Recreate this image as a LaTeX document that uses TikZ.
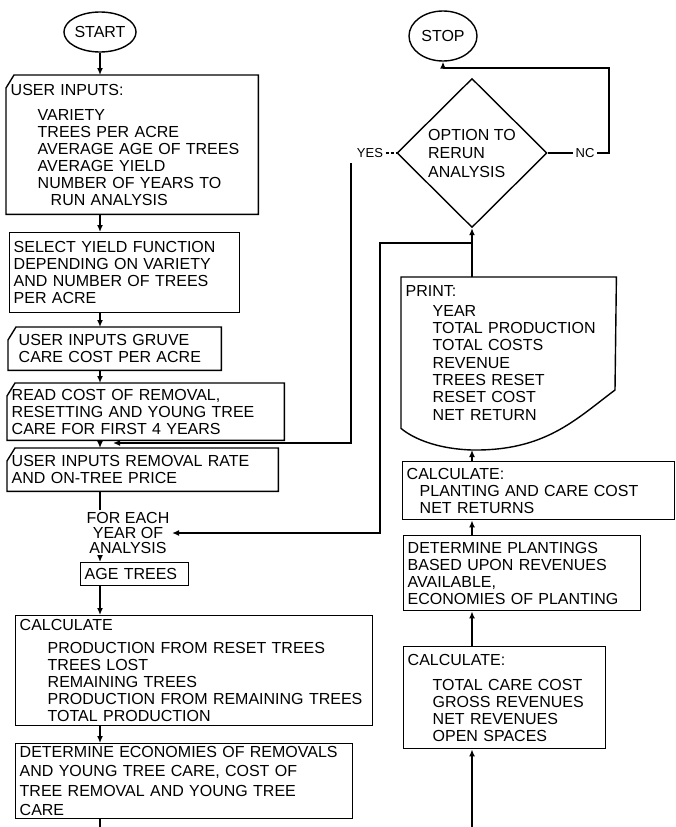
\documentclass[tikz,border=0pt]{standalone}
\usepackage{fontspec}
\setmainfont{Liberation Sans}
\usetikzlibrary{shapes.geometric,arrows.meta}

% input box with the upper left corner cut off
\newcommand{\card}[1]{\draw ([yshift=-13pt]#1.north west) -- ([xshift=8pt]#1.north west) -- (#1.north east) -- (#1.south east) -- (#1.south west) -- cycle;}

\begin{document}
\begin{tikzpicture}[x=1pt, y=-1pt, line width=1.4pt, >={Latex[length=7pt,width=6pt]},
    font=\fontsize{16}{17}\selectfont,
    box/.style={draw, rectangle, anchor=north west, align=left, inner xsep=4pt, inner ysep=0pt},
    card/.style={box, draw=none},
    term/.style={draw, ellipse, inner sep=0pt},
    lbl/.style={inner sep=2pt, font=\fontsize{13}{15}\selectfont}]
\useasboundingbox (0,0) rectangle (675,827);

% left column
\node[term, minimum width=66pt, minimum height=40pt] (start) at (100,32) {START};
\node[card, text width=243pt, minimum height=138pt] (inp) at (6,75) {USER INPUTS:\\[8pt]
    \hspace*{27pt}VARIETY\\
    \hspace*{27pt}TREES PER ACRE\\
    \hspace*{27pt}AVERAGE AGE OF TREES\\
    \hspace*{27pt}AVERAGE YIELD\\
    \hspace*{27pt}NUMBER OF YEARS TO\\
    \hspace*{40pt}RUN ANALYSIS};
\node[box, text width=222pt, minimum height=80pt] (sel) at (9,232) {SELECT YIELD FUNCTION\\DEPENDING ON VARIETY\\AND NUMBER OF TREES\\PER ACRE};
\node[card, text width=204pt, minimum height=42pt] (gru) at (8,327) {\hspace*{6pt}USER INPUTS GRUVE\\\hspace*{6pt}CARE COST PER ACRE};
\node[card, text width=268pt, minimum height=56pt] (rd) at (7,383) {READ COST OF REMOVAL,\\RESETTING AND YOUNG TREE\\CARE FOR FIRST 4 YEARS};
\node[card, text width=262pt, minimum height=42pt] (rem) at (7,448) {USER INPUTS REMOVAL RATE\\AND ON-TREE PRICE};
\node[align=center, inner sep=2pt, font=\fontsize{16}{15}\selectfont] (fey) at (128,533) {FOR EACH\\YEAR OF\\ANALYSIS};
\node[box, text width=100pt, minimum height=23pt] (age) at (80,562) {AGE TREES};
\node[box, text width=349pt, minimum height=110pt] (cl1) at (15,615) {CALCULATE\\[6pt]
    \hspace*{28pt}PRODUCTION FROM RESET TREES\\
    \hspace*{28pt}TREES LOST\\
    \hspace*{28pt}REMAINING TREES\\
    \hspace*{28pt}PRODUCTION FROM REMAINING TREES\\
    \hspace*{28pt}TOTAL PRODUCTION};
\node[box, text width=329pt, minimum height=75pt] (det1) at (15,743) {DETERMINE ECONOMIES OF REMOVALS\\[2.5pt]AND YOUNG TREE CARE, COST OF\\[2.5pt]TREE REMOVAL AND YOUNG TREE\\[2.5pt]CARE};
\card{inp}
\card{gru}
\card{rd}
\card{rem}

% right column
\node[term, minimum width=68pt, minimum height=50pt] (stop) at (443,36) {STOP};
\node[draw, diamond, aspect=1, minimum width=150pt, minimum height=149pt, inner sep=0pt, align=left, font=\fontsize{16}{18.5}\selectfont] (dia) at (472,153) {OPTION TO\\RERUN\\ANALYSIS};
\node[lbl] (yes) at (370,153) {YES};
\node[lbl] (no) at (585,153) {NC};
\node[card, text width=206pt, minimum height=150pt, font=\fontsize{16}{17.3}\selectfont] (pr) at (401,277) {PRINT:\\[3pt]
    \hspace*{27pt}YEAR\\
    \hspace*{27pt}TOTAL PRODUCTION\\
    \hspace*{27pt}TOTAL COSTS\\
    \hspace*{27pt}REVENUE\\
    \hspace*{27pt}TREES RESET\\
    \hspace*{27pt}RESET COST\\
    \hspace*{27pt}NET RETURN};
\node[box, text width=264pt, minimum height=58pt] (cl2) at (402,461) {CALCULATE:\\
    \hspace*{13pt}PLANTING AND CARE COST\\
    \hspace*{13pt}NET RETURNS};
\node[box, text width=229pt, minimum height=75pt] (det2) at (403,535) {DETERMINE PLANTINGS\\BASED UPON REVENUES\\AVAILABLE,\\ECONOMIES OF PLANTING};
\node[box, text width=194pt, minimum height=102pt] (cl3) at (403,646) {CALCULATE:\\[8pt]
    \hspace*{25pt}TOTAL CARE COST\\
    \hspace*{25pt}GROSS REVENUES\\
    \hspace*{25pt}NET REVENUES\\
    \hspace*{25pt}OPEN SPACES};

% print sheet with its wavy lower edge
\coordinate (pb) at (472,450);
\draw (pr.north west) -- (pr.north east) -- (615,390) .. controls (575,420) and (545,451) .. (pb) .. controls (440,449) and (415,440) .. (pr.south west) -- cycle;

% connectors, left column
\draw[->] (start) -- (inp.north -| start);
\draw[->] (inp.south -| start) -- (sel.north -| start);
\draw[->] (sel.south -| start) -- (gru.north -| start);
\draw[->] (gru.south -| start) -- (rd.north -| start);
\draw[->] (rd.south -| start) -- (rem.north -| start);
\draw (rem.south -| start) -- (fey.north -| start);
\draw[->] (fey.south -| start) -- (age.north -| start);
\draw[->] (age.south -| start) -- (cl1.north -| start);
\draw[->] (cl1.south -| start) -- (det1.north -| start);
\coordinate (endl) at (100,827);
\draw (det1.south -| start) -- (endl);

% connectors, right column
\coordinate (endr) at (472,827);
\draw[->] (endr) -- (cl3.south -| dia);
\draw[->] (cl3.north -| dia) -- (det2.south -| dia);
\draw[->] (det2.north -| dia) -- (cl2.south -| dia);
\draw[->] (cl2.north -| dia) -- (pb);
\draw[->] (pr.north -| dia) -- (dia.south);

% next year loop
\coordinate (j2) at (472,243);
\coordinate (k) at (380,243);
\draw[->] (j2) -- (k) |- (fey.east);

% rerun: yes
\draw[dash pattern=on 3pt off 2pt] (yes) -- (dia.west);
\coordinate (y1) at (351,163);
\coordinate (j1) at (113,443);
\draw[->] (y1) |- (j1);

% rerun: no
\draw (dia.east) -- (no.west);
\coordinate (n1) at (609,68);
\draw[->] (no.east) -| (n1) -| (stop.south);
\end{tikzpicture}
\end{document}
